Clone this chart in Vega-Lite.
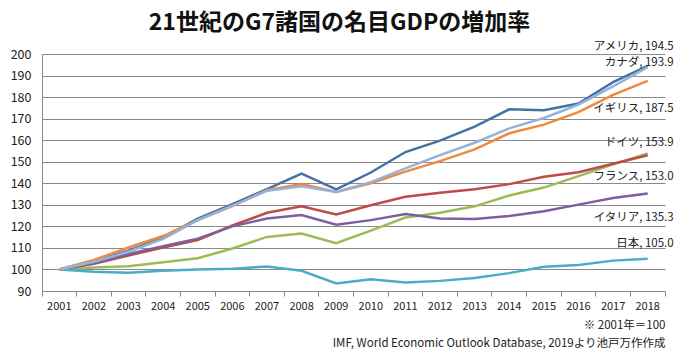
{
  "$schema": "https://vega.github.io/schema/vega-lite/v6.json",
  "autosize": {"type": "none"},
  "width": 623,
  "height": 237,
  "padding": {"left": 42, "top": 54, "right": 15, "bottom": 64},
  "background": "white",
  "config": {"font": "Noto Sans CJK JP", "view": {"stroke": null}},
  "title": {
    "text": "21世紀のG7諸国の名目GDPの増加率",
    "fontSize": 23,
    "fontWeight": "bold",
    "anchor": "middle",
    "frame": "group",
    "dx": -14,
    "offset": 6,
    "color": "#111111"
  },
  "data": {
    "values": [
      {"year": "2001", "アメリカ": 100, "カナダ": 100, "イギリス": 100, "ドイツ": 100, "フランス": 100, "イタリア": 100, "日本": 100},
      {"year": "2002", "アメリカ": 103.9, "カナダ": 103.6, "イギリス": 104.4, "ドイツ": 100.9, "フランス": 102.6, "イタリア": 102.9, "日本": 98.9},
      {"year": "2003", "アメリカ": 108.7, "カナダ": 108.2, "イギリス": 110.2, "ドイツ": 101.5, "フランス": 106.5, "イタリア": 107.2, "日本": 98.5},
      {"year": "2004", "アメリカ": 114.8, "カナダ": 114.2, "イギリス": 115.5, "ドイツ": 103.3, "フランス": 110.2, "イタリア": 110.8, "日本": 99.4},
      {"year": "2005", "アメリカ": 123.6, "カナダ": 122.9, "イギリス": 122.9, "ドイツ": 105.2, "フランス": 113.6, "イタリア": 114.3, "日本": 100.0},
      {"year": "2006", "アメリカ": 130.3, "カナダ": 129.6, "イギリス": 129.4, "ドイツ": 109.7, "フランス": 120.4, "イタリア": 120.0, "日本": 100.3},
      {"year": "2007", "アメリカ": 137.3, "カナダ": 136.5, "イギリス": 136.8, "ドイツ": 115.1, "フランス": 126.3, "イタリア": 123.6, "日本": 101.4},
      {"year": "2008", "アメリカ": 144.5, "カナダ": 138.6, "イギリス": 139.6, "ドイツ": 116.7, "フランス": 129.3, "イタリア": 125.3, "日本": 99.4},
      {"year": "2009", "アメリカ": 137.2, "カナダ": 136.0, "イギリス": 136.0, "ドイツ": 112.2, "フランス": 125.5, "イタリア": 120.8, "日本": 93.5},
      {"year": "2010", "アメリカ": 145.0, "カナダ": 140.5, "イギリス": 140.0, "ドイツ": 118.0, "フランス": 129.8, "イタリア": 122.9, "日本": 95.5},
      {"year": "2011", "アメリカ": 154.5, "カナダ": 146.9, "イギリス": 145.4, "ドイツ": 124.1, "フランス": 133.7, "イタリア": 125.7, "日本": 94.0},
      {"year": "2012", "アメリカ": 159.8, "カナダ": 153.1, "イギリス": 150.3, "ドイツ": 126.3, "フランス": 135.6, "イタリア": 123.7, "日本": 94.7},
      {"year": "2013", "アメリカ": 166.3, "カナダ": 158.8, "イギリス": 155.7, "ドイツ": 129.3, "フランス": 137.2, "イタリア": 123.4, "日本": 96.0},
      {"year": "2014", "アメリカ": 174.3, "カナダ": 165.5, "イギリス": 163.2, "ドイツ": 134.3, "フランス": 139.6, "イタリア": 124.8, "日本": 98.3},
      {"year": "2015", "アメリカ": 173.9, "カナダ": 170.3, "イギリス": 167.2, "ドイツ": 138.0, "フランス": 143.0, "イタリア": 127.0, "日本": 101.3},
      {"year": "2016", "アメリカ": 177.0, "カナダ": 176.5, "イギリス": 173.0, "ドイツ": 143.3, "フランス": 145.1, "イタリア": 130.1, "日本": 102.1},
      {"year": "2017", "アメリカ": 186.9, "カナダ": 185.0, "イギリス": 181.0, "ドイツ": 148.8, "フランス": 149.1, "イタリア": 133.2, "日本": 104.1},
      {"year": "2018", "アメリカ": 194.5, "カナダ": 193.9, "イギリス": 187.5, "ドイツ": 153.9, "フランス": 153.0, "イタリア": 135.3, "日本": 105.0}
    ]
  },
  "transform": [
    {"fold": ["アメリカ", "ドイツ", "フランス", "イタリア", "日本", "イギリス", "カナダ"], "as": ["country", "value"]},
    {"calculate": "datum.country + ', ' + format(datum.value, '.1f')", "as": "label"}
  ],
  "encoding": {
    "x": {
      "field": "year",
      "type": "ordinal",
      "bandPosition": 0.5,
      "scale": {"type": "band", "paddingInner": 0, "paddingOuter": 0},
      "axis": {
        "title": ["※ 2001年＝100", "IMF, World Economic Outlook Database, 2019より池戸万作作成"],
        "titleAnchor": "end",
        "titleAlign": "right",
        "titleFontSize": 11.5,
        "titleFontWeight": "normal",
        "titleLineHeight": 18,
        "titlePadding": 8,
        "titleColor": "#222222",
        "labelAngle": 0,
        "labelFontSize": 11,
        "labelPadding": 4,
        "labelColor": "#222222",
        "bandPosition": 1,
        "tickExtra": true,
        "tickSize": 5,
        "tickColor": "#8a8a8a",
        "domainColor": "#8a8a8a",
        "grid": false
      }
    },
    "y": {
      "field": "value",
      "type": "quantitative",
      "scale": {"domain": [90, 200], "nice": false, "zero": false},
      "axis": {
        "title": null,
        "values": [90, 100, 110, 120, 130, 140, 150, 160, 170, 180, 190, 200],
        "ticks": false,
        "labelPadding": 11,
        "labelFontSize": 12.5,
        "labelColor": "#222222",
        "gridColor": "#8a8a8a",
        "domainColor": "#8a8a8a"
      }
    }
  },
  "layer": [
    {
      "mark": {"type": "line", "strokeWidth": 2.5},
      "encoding": {
        "color": {
          "field": "country",
          "type": "nominal",
          "legend": null,
          "scale": {
            "domain": ["アメリカ", "カナダ", "イギリス", "ドイツ", "フランス", "イタリア", "日本"],
            "range": ["#4671A8", "#95B3D7", "#F0883E", "#9BBB59", "#BE4B48", "#7D5FA0", "#4BACC6"]
          }
        }
      }
    },
    {
      "transform": [{"filter": "datum.year == '2018' && datum.country == 'アメリカ'"}],
      "mark": {"type": "text", "align": "right", "dx": 26, "dy": -19, "fontSize": 11.5, "color": "#222222"},
      "encoding": {"text": {"field": "label"}}
    },
    {
      "transform": [{"filter": "datum.year == '2018' && datum.country == 'カナダ'"}],
      "mark": {"type": "text", "align": "right", "dx": 26, "dy": -4, "fontSize": 11.5, "color": "#222222"},
      "encoding": {"text": {"field": "label"}}
    },
    {
      "transform": [{"filter": "datum.year == '2018' && datum.country == 'イギリス'"}],
      "mark": {"type": "text", "align": "right", "dx": 26, "dy": 28, "fontSize": 11.5, "color": "#222222"},
      "encoding": {"text": {"field": "label"}}
    },
    {
      "transform": [{"filter": "datum.year == '2018' && datum.country == 'ドイツ'"}],
      "mark": {"type": "text", "align": "right", "dx": 26, "dy": -10, "fontSize": 11.5, "color": "#222222"},
      "encoding": {"text": {"field": "label"}}
    },
    {
      "transform": [{"filter": "datum.year == '2018' && datum.country == 'フランス'"}],
      "mark": {"type": "text", "align": "right", "dx": 26, "dy": 22, "fontSize": 11.5, "color": "#222222"},
      "encoding": {"text": {"field": "label"}}
    },
    {
      "transform": [{"filter": "datum.year == '2018' && datum.country == 'イタリア'"}],
      "mark": {"type": "text", "align": "right", "dx": 26, "dy": 25, "fontSize": 11.5, "color": "#222222"},
      "encoding": {"text": {"field": "label"}}
    },
    {
      "transform": [{"filter": "datum.year == '2018' && datum.country == '日本'"}],
      "mark": {"type": "text", "align": "right", "dx": 26, "dy": -15, "fontSize": 11.5, "color": "#222222"},
      "encoding": {"text": {"field": "label"}}
    }
  ]
}
